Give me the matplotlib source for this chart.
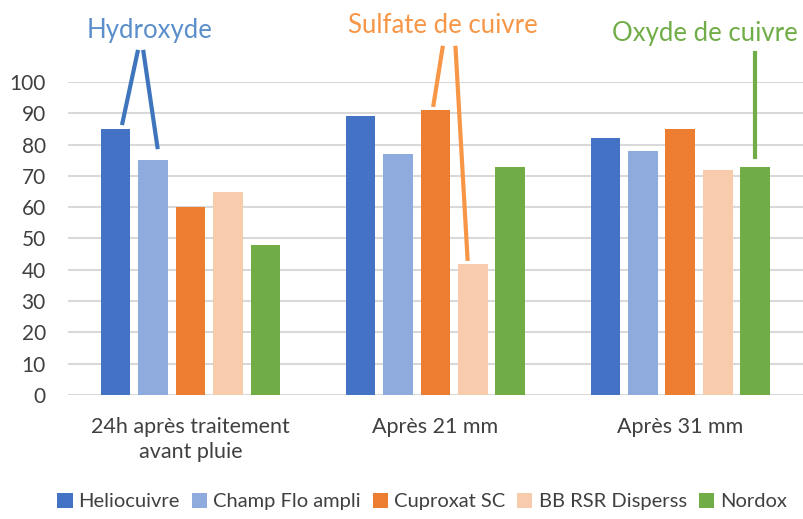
import numpy as np
from matplotlib import pyplot as plt

plt.rcParams['font.family'] = ['Lato', 'DejaVu Sans']

# Data
categories = ['24h après traitement\navant pluie', 'Après 21 mm', 'Après 31 mm']
series = ['Heliocuivre', 'Champ Flo ampli', 'Cuproxat SC', 'BB RSR Disperss', 'Nordox']
heliocuivre = [85, 89, 82]
champ_flo = [75, 77, 78]
cuproxat = [60, 91, 85]
bb_rsr = [65, 42, 72]
nordox = [48, 73, 73]
values = [heliocuivre, champ_flo, cuproxat, bb_rsr, nordox]
colors = ['#4472C4', '#8FAADC', '#ED7D31', '#F8CBAD', '#70AD47']

fig = plt.figure(figsize=(8.04, 5.19), dpi=100)
ax = fig.add_axes([0.0846, 0.239, 0.914, 0.603])

x = np.arange(len(categories))
step = 0.153
width = 0.122
for i, (name, vals) in enumerate(zip(series, values)):
    ax.bar(x + (i - 2) * step, vals, width, color=colors[i], label=name, zorder=3)

ax.set_xlim(-0.5, 2.5)
ax.set_ylim(0, 100)
ax.set_yticks(range(0, 101, 10))
ax.set_xticks(x)
ax.set_xticklabels(categories, fontsize=15.5, color='#404040', linespacing=1.3)
ax.tick_params(axis='y', labelsize=15, labelcolor='#404040', length=0, pad=16)
ax.tick_params(axis='x', length=0, pad=16)
ax.grid(axis='y', color='#D9D9D9', lw=1.5, zorder=0)
for s in ax.spines.values():
    s.set_visible(False)

# annotations
ann = [
    ('Hydroxyde', '#5B8FCB', '#3F75BD', -0.168, 116.3,
     [((-0.216, 109.6), (-0.278, 86.9)), ((-0.192, 109.6), (-0.135, 79.2))]),
    ('Sulfate de cuivre', '#F79646', '#F79646', 1.03, 118.2,
     [((1.029, 110.9), (0.992, 92.7)), ((1.082, 110.9), (1.131, 43.5))]),
    ('Oxyde de cuivre', '#70AD47', '#70AD47', 2.10, 115.6,
     [((2.305, 109.3), (2.305, 76.0))]),
]
for label, tcol, lcol, tx, ty, lines in ann:
    ax.text(tx, ty, label, color=tcol, fontsize=18.5, ha='center', va='center',
            clip_on=False)
    for (x0, y0), (x1, y1) in lines:
        ax.plot([x0, x1], [y0, y1], color=lcol, lw=3, clip_on=False, zorder=4)

fig.legend(loc='lower center', bbox_to_anchor=(0.525, -0.018), ncol=5, frameon=False,
           fontsize=14.5, handlelength=0.75, handleheight=0.75, handletextpad=0.3,
           columnspacing=0.6, labelcolor='#404040')

fig.savefig('out.png', dpi=100)
